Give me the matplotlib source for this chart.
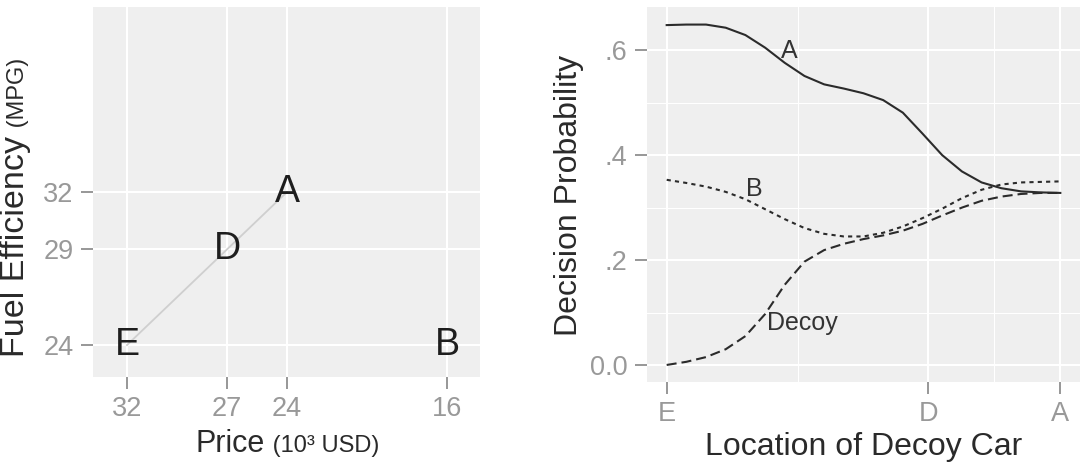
import matplotlib
matplotlib.use('Agg')
import matplotlib.pyplot as plt
from matplotlib.ticker import FixedLocator

plt.rcParams['font.family'] = ['Liberation Sans', 'DejaVu Sans']

# ---------------- data: left panel (attribute space) ----------------
car_labels = ['E', 'D', 'A', 'B']
price_k = [32, 27, 24, 16]          # price, 10^3 USD
mpg = [24, 29, 32, 24]              # fuel efficiency, MPG
decoy_path = ['E', 'D', 'A']        # cars joined by the grey line
price_ticks = [32, 27, 24, 16]
mpg_ticks = [24, 29, 32]

# ---------------- data: right panel (decision probabilities) ----------------
location = [0.00, 0.05, 0.10, 0.15, 0.20, 0.25, 0.30, 0.35, 0.40, 0.45, 0.50,
            0.55, 0.60, 0.65, 0.70, 0.75, 0.80, 0.85, 0.90, 0.95, 1.00]
prob_a = [0.648, 0.649, 0.649, 0.643, 0.629, 0.605, 0.576, 0.551, 0.535, 0.527, 0.518,
          0.505, 0.481, 0.441, 0.400, 0.369, 0.348, 0.337, 0.331, 0.329, 0.328]
prob_b = [0.353, 0.347, 0.340, 0.330, 0.316, 0.297, 0.278, 0.261, 0.250, 0.245, 0.245,
          0.252, 0.264, 0.280, 0.298, 0.318, 0.334, 0.344, 0.348, 0.349, 0.350]
prob_decoy = [0.000, 0.006, 0.015, 0.030, 0.055, 0.097, 0.153, 0.197, 0.219, 0.231, 0.240,
              0.247, 0.256, 0.269, 0.285, 0.300, 0.313, 0.321, 0.326, 0.328, 0.328]
loc_ticks = [0.0, 0.665, 1.0]
loc_tick_labels = ['E', 'D', 'A']
prob_ticks = [0.0, 0.2, 0.4, 0.6]
prob_tick_labels = ['0.0', '.2', '.4', '.6']
curve_labels = ['A', 'B', 'Decoy']

# ---------------- figure ----------------
W, H = 1090, 468
fig = plt.figure(figsize=(W / 100, H / 100), dpi=100)


def px_axes(l, t, r, b):
    return fig.add_axes([l / W, 1 - b / H, (r - l) / W, (b - t) / H])


BG = '#EFEFEF'
TICK_C = '#8f8f8f'
TICKLAB_C = '#999999'
TITLE_C = '#2a2a2a'


def style(ax):
    ax.set_facecolor(BG)
    for s in ax.spines.values():
        s.set_visible(False)
    ax.set_axisbelow(True)
    ax.grid(True, which='major', color='white', lw=1.5)
    ax.tick_params(which='major', direction='out', length=8.5, width=1.3,
                   color=TICK_C, labelcolor=TICKLAB_C, labelsize=19.5, pad=5.5)
    ax.tick_params(which='minor', length=0)


# left panel
ax1 = px_axes(93, 7, 480, 377)
style(ax1)
ax1.set_xlim(33.7, 14.35)
ax1.set_ylim(22.33, 41.67)
ax1.set_xticks(price_ticks)
ax1.set_xticklabels([str(p) for p in price_ticks])
ax1.set_yticks(mpg_ticks)
ax1.set_yticklabels([str(m) for m in mpg_ticks])
idx = [car_labels.index(c) for c in decoy_path]
ax1.plot([price_k[i] for i in idx], [mpg[i] for i in idx], color='#cfcfcf', lw=1.3, zorder=2)
for lab, p, m in zip(car_labels, price_k, mpg):
    ax1.text(p, m, lab, ha='center', va='center', fontsize=27, color='#1e1e1e', zorder=3)

# right panel
ax2 = px_axes(647, 7, 1080, 382)
style(ax2)
ax2.set_xlim(-0.05, 1.05)
ax2.set_ylim(-0.0325, 0.6825)
ax2.set_xticks(loc_ticks)
ax2.set_xticklabels(loc_tick_labels)
ax2.set_yticks(prob_ticks)
ax2.set_yticklabels(prob_tick_labels)
ax2.xaxis.set_minor_locator(FixedLocator([(a + b) / 2 for a, b in zip(loc_ticks[:-1], loc_ticks[1:])]))
ax2.yaxis.set_minor_locator(FixedLocator([(a + b) / 2 for a, b in zip(prob_ticks[:-1], prob_ticks[1:])]))
ax2.grid(True, which='minor', color='white', lw=0.8)

LINE_C = '#2b2b2b'
ax2.plot(location, prob_a, color=LINE_C, lw=1.5, solid_joinstyle='round')
ax2.plot(location, prob_b, color=LINE_C, lw=1.5, dashes=(2.0, 2.0))
ax2.plot(location, prob_decoy, color=LINE_C, lw=1.5, dashes=(4.8, 2.4))

LAB_C = '#333333'
ax2.text(0.312, 0.598, curve_labels[0], ha='center', va='center', fontsize=18, color=LAB_C)
ax2.text(0.223, 0.335, curve_labels[1], ha='center', va='center', fontsize=18, color=LAB_C)
ax2.text(0.256, 0.080, curve_labels[2], ha='left', va='center', fontsize=18, color=LAB_C)

# ---------------- axis titles (mixed sizes) ----------------
fig.canvas.draw()
r = fig.canvas.get_renderer()

tp = fig.text(0, 0, 'Price', fontsize=22, color=TITLE_C, ha='left', va='baseline')
tu = fig.text(0, 0, ' (10\u00b3 USD)', fontsize=17, color=TITLE_C, ha='left', va='baseline')
w1 = tp.get_window_extent(r).width
w2 = tu.get_window_extent(r).width
x0 = 286.5 - (w1 + w2) / 2
tp.set_position((x0 / W, 1 - 452 / H))
tu.set_position(((x0 + w1 + 2) / W, 1 - 452 / H))

tf = fig.text(24 / W, 1 - 357 / H, 'Fuel Efficiency', fontsize=24.5, color=TITLE_C,
              rotation=90, rotation_mode='anchor', ha='left', va='baseline')
lf = tf.get_window_extent(r).height
fig.text(24 / W, 1 - (357 - lf - 2) / H, ' (MPG)', fontsize=17, color=TITLE_C,
         rotation=90, rotation_mode='anchor', ha='left', va='baseline')

fig.text(577 / W, 1 - 195 / H, 'Decision Probability', fontsize=23, color=TITLE_C,
         rotation=90, rotation_mode='anchor', ha='center', va='baseline')
fig.text(863.5 / W, 1 - 455 / H, 'Location of Decoy Car', fontsize=23, color=TITLE_C,
         ha='center', va='baseline')

fig.savefig('out.png', dpi=100, facecolor='white')
